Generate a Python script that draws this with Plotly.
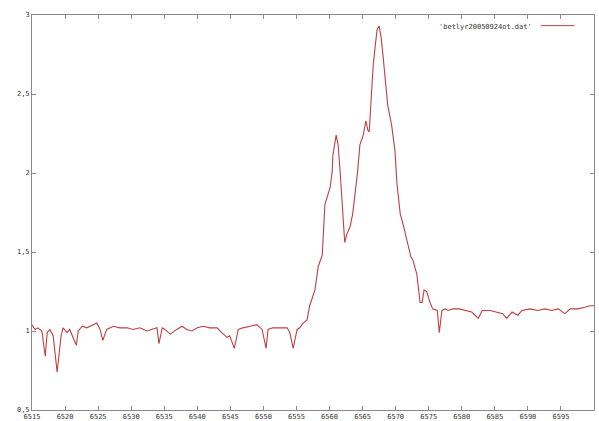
import plotly.graph_objects as go

wavelength = [6515.0, 6515.45, 6515.9, 6516.5, 6517.0, 6517.3, 6517.7, 6518.2, 6518.8, 6519.4,
              6519.7, 6520.3, 6520.7, 6521.7, 6522.0, 6522.6, 6523.3, 6524.2, 6524.8, 6525.3,
              6525.7, 6526.3, 6527.3, 6528.3, 6529.4, 6530.3, 6531.3, 6532.4, 6533.3, 6533.9,
              6534.2, 6534.7, 6535.1, 6535.9, 6536.9, 6537.7, 6538.4, 6539.2, 6540.0, 6540.9,
              6541.9, 6543.0, 6543.7, 6544.5, 6544.9, 6545.6, 6546.2, 6546.9, 6548.0, 6549.0,
              6549.8, 6550.4, 6550.7, 6551.4, 6552.5, 6553.6, 6554.0, 6554.5, 6555.1, 6555.5,
              6556.0, 6556.6, 6557.0, 6557.8, 6558.3, 6558.9, 6559.3, 6559.6, 6560.1, 6560.4,
              6560.5, 6561.0, 6561.3, 6561.6, 6562.0, 6562.3, 6562.6, 6563.1, 6563.5, 6563.8,
              6564.2, 6564.6, 6565.1, 6565.5, 6565.8, 6566.0, 6566.3, 6566.6, 6566.9, 6567.2,
              6567.5, 6567.8, 6568.1, 6568.5, 6568.8, 6569.4, 6569.9, 6570.2, 6570.7, 6571.1,
              6571.7, 6572.3, 6572.6, 6573.2, 6573.7, 6574.0, 6574.3, 6574.7, 6575.2, 6575.6,
              6576.3, 6576.6, 6577.0, 6577.5, 6577.9, 6578.7, 6579.6, 6580.6, 6581.5, 6582.5,
              6583.1, 6584.3, 6585.3, 6586.2, 6586.8, 6587.6, 6588.5, 6589.1, 6590.3, 6591.5,
              6592.6, 6593.6, 6594.6, 6595.6, 6596.4, 6597.6, 6598.6, 6599.4, 6600.0]

flux = [1.04, 1.01, 1.02, 1.00, 0.84, 0.99, 1.01, 0.97, 0.74, 0.97,
        1.02, 0.99, 1.01, 0.91, 1.00, 1.03, 1.02, 1.04, 1.05, 1.01,
        0.94, 1.01, 1.03, 1.02, 1.02, 1.01, 1.02, 1.00, 1.01, 1.02,
        0.92, 1.02, 1.01, 0.98, 1.01, 1.03, 1.01, 1.00, 1.02, 1.03,
        1.02, 1.02, 0.99, 0.96, 0.97, 0.89, 1.01, 1.02, 1.03, 1.04,
        1.01, 0.89, 1.01, 1.02, 1.02, 1.02, 0.99, 0.89, 1.01, 1.02,
        1.05, 1.07, 1.16, 1.26, 1.41, 1.48, 1.80, 1.84, 1.91, 2.01,
        2.11, 2.24, 2.18, 2.01, 1.74, 1.56, 1.61, 1.66, 1.74, 1.84,
        1.99, 2.18, 2.24, 2.33, 2.27, 2.26, 2.47, 2.68, 2.80, 2.91,
        2.93, 2.86, 2.74, 2.55, 2.43, 2.30, 2.14, 1.93, 1.74, 1.68,
        1.58, 1.47, 1.45, 1.36, 1.18, 1.18, 1.26, 1.25, 1.18, 1.14,
        1.13, 0.99, 1.13, 1.14, 1.13, 1.14, 1.14, 1.13, 1.12, 1.08,
        1.13, 1.13, 1.12, 1.11, 1.08, 1.12, 1.10, 1.13, 1.14, 1.13,
        1.14, 1.13, 1.14, 1.11, 1.14, 1.14, 1.15, 1.16, 1.16]

x_ticks = list(range(6515, 6601, 5))
y_ticks = [0.5, 1, 1.5, 2, 2.5, 3]
y_tick_labels = ["0,5", "1", "1,5", "2", "2,5", "3"]
series_name = "'betlyr20050924ot.dat'"

line_color = "#bf4040"
tick_font = dict(family="DejaVu Sans Mono", size=7, color="#333333")

fig = go.Figure()
fig.add_trace(go.Scatter(x=wavelength, y=flux, mode="lines",
                         line=dict(color=line_color, width=1.1),
                         name=series_name, showlegend=False))

axis_common = dict(showgrid=False, zeroline=False, showline=True, linecolor="#8a8a8a",
                   linewidth=1, mirror="ticks", ticks="inside", ticklen=4,
                   tickcolor="#8a8a8a", tickfont=tick_font, automargin=False)

fig.update_xaxes(range=[6515, 6600], tickvals=x_ticks,
                 ticktext=[str(t) for t in x_ticks], ticklabelstandoff=0, **axis_common)
fig.update_yaxes(range=[0.5, 3], tickvals=y_ticks, ticktext=y_tick_labels, **axis_common)

# legend key (gnuplot style: text then line sample)
fig.add_annotation(xref="paper", yref="paper", x=0.893, y=0.985, xanchor="right",
                   yanchor="top", text=series_name, showarrow=False,
                   font=dict(family="DejaVu Sans Mono", size=7, color="#333333"))
fig.add_shape(type="line", xref="paper", yref="paper", x0=0.905, x1=0.965,
              y0=0.973, y1=0.973, line=dict(color=line_color, width=1))

fig.update_layout(width=599, height=421, margin=dict(l=32, r=5, t=15, b=11),
                  paper_bgcolor="white", plot_bgcolor="white")

fig.write_html("out.html", config={"displayModeBar": False},
               post_script="document.body.style.margin='0';document.body.style.overflow='hidden';")
